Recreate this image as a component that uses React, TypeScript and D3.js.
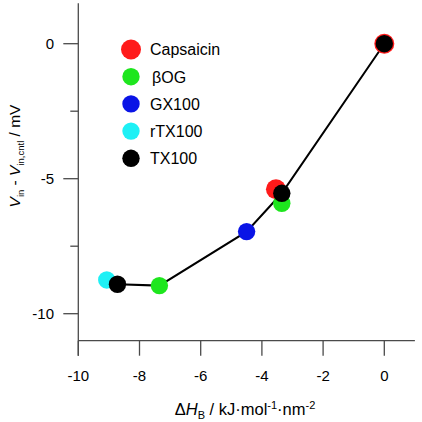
import React from "react";
import * as d3 from "d3";

const capsaicinX = [0, -3.54];
const capsaicinY = [0, -5.39];
const bogX = [-3.35, -7.35];
const bogY = [-5.91, -8.96];
const gx100X = [-4.5];
const gx100Y = [-6.96];
const rtx100X = [-9.07];
const rtx100Y = [-8.75];
const tx100X = [0, -3.35, -8.72];
const tx100Y = [0, -5.54, -8.91];
const lineX = [-8.72, -7.35, -4.5, -3.35, 0];
const lineY = [-8.91, -8.96, -6.96, -5.54, 0];

const xTicks = [-10, -8, -6, -4, -2, 0];
const yTicks = [0, -5, -10];
const yMinorTicks = [-2.5, -7.5];

const seriesNames = ["Capsaicin", "\u03b2OG", "GX100", "rTX100", "TX100"];
const seriesColors = ["#ff1a1a", "#1ee61e", "#0a14e6", "#1ef0f5", "#000000"];

export default function App() {
  const x = d3.scaleLinear().domain([-10, 1]).range([78.3, 414.9]);
  const y = d3.scaleLinear().domain([1.5, -11]).range([3.2, 340.7]);
  const font = "'Liberation Sans', Arial, Helvetica, sans-serif";
  const axisColor = "#4a4a4a";

  const series = [
    { xs: capsaicinX, ys: capsaicinY, r: 10 },
    { xs: bogX, ys: bogY, r: 8.7 },
    { xs: gx100X, ys: gx100Y, r: 8.7 },
    { xs: rtx100X, ys: rtx100Y, r: 8.7 },
    { xs: tx100X, ys: tx100Y, r: 8.7 },
  ];

  const line = d3
    .line<number>()
    .x((_, i) => x(lineX[i]))
    .y((_, i) => y(lineY[i]));

  const axisX = x(-10);
  const axisY = y(-11);

  return (
    <svg
      width={422}
      height={422}
      style={{ position: "absolute", left: 0, top: 0, background: "#fff" }}
      fontFamily={font}
    >
      {/* axes */}
      <line x1={axisX} x2={axisX} y1={y(1.5)} y2={axisY + 15} stroke={axisColor} strokeWidth={1.3} />
      <line x1={axisX} x2={x(1)} y1={axisY} y2={axisY} stroke={axisColor} strokeWidth={1.3} />
      {xTicks.map((t) => (
        <g key={"xt" + t}>
          <line x1={x(t)} x2={x(t)} y1={axisY} y2={axisY + 15} stroke={axisColor} strokeWidth={1.3} />
          <text x={x(t)} y={381} textAnchor="middle" fontSize={15} fill="#000">
            {t}
          </text>
        </g>
      ))}
      {yTicks.map((t) => (
        <g key={"yt" + t}>
          <line x1={axisX - 15} x2={axisX} y1={y(t)} y2={y(t)} stroke={axisColor} strokeWidth={1.3} />
          <text x={54} y={y(t) + 5.3} textAnchor="end" fontSize={15} fill="#000">
            {t}
          </text>
        </g>
      ))}
      {yMinorTicks.map((t) => (
        <line key={"ym" + t} x1={axisX - 8} x2={axisX} y1={y(t)} y2={y(t)} stroke={axisColor} strokeWidth={1.3} />
      ))}

      {/* axis titles */}
      <text x={245} y={415} textAnchor="middle" fontSize={16.5} fill="#000">
        <tspan>{"\u0394"}</tspan>
        <tspan fontStyle="italic">H</tspan>
        <tspan fontSize={11} dy={4}>B</tspan>
        <tspan dy={-4}>{" / kJ\u00b7mol"}</tspan>
        <tspan fontSize={11} dy={-6}>-1</tspan>
        <tspan dy={6}>{"\u00b7nm"}</tspan>
        <tspan fontSize={11} dy={-6}>-2</tspan>
      </text>
      <text transform="translate(20,156) rotate(-90)" textAnchor="middle" fontSize={15.5} fill="#000">
        <tspan fontStyle="italic">V</tspan>
        <tspan fontSize={9.5} dy={4}>in</tspan>
        <tspan dy={-4}>{" - "}</tspan>
        <tspan fontStyle="italic">V</tspan>
        <tspan fontSize={9.5} dy={4}>in,cntl</tspan>
        <tspan dy={-4}>{" / mV"}</tspan>
      </text>

      {/* connecting line */}
      <path d={line(lineX) || ""} fill="none" stroke="#000" strokeWidth={2} />

      {/* markers */}
      {series.map((s, si) =>
        s.xs.map((v, i) => (
          <circle key={si + "-" + i} cx={x(v)} cy={y(s.ys[i])} r={s.r} fill={seriesColors[si]} />
        ))
      )}

      {/* legend */}
      {seriesNames.map((n, i) => (
        <g key={"lg" + n} transform={`translate(131,${49.5 + i * 27.2})`}>
          <circle cx={0} cy={0} r={i === 0 ? 10 : 8.7} fill={seriesColors[i]} />
          <text x={i === 1 ? 21 : 19} y={5.8} fontSize={16} fill="#000">
            {n}
          </text>
        </g>
      ))}
    </svg>
  );
}
